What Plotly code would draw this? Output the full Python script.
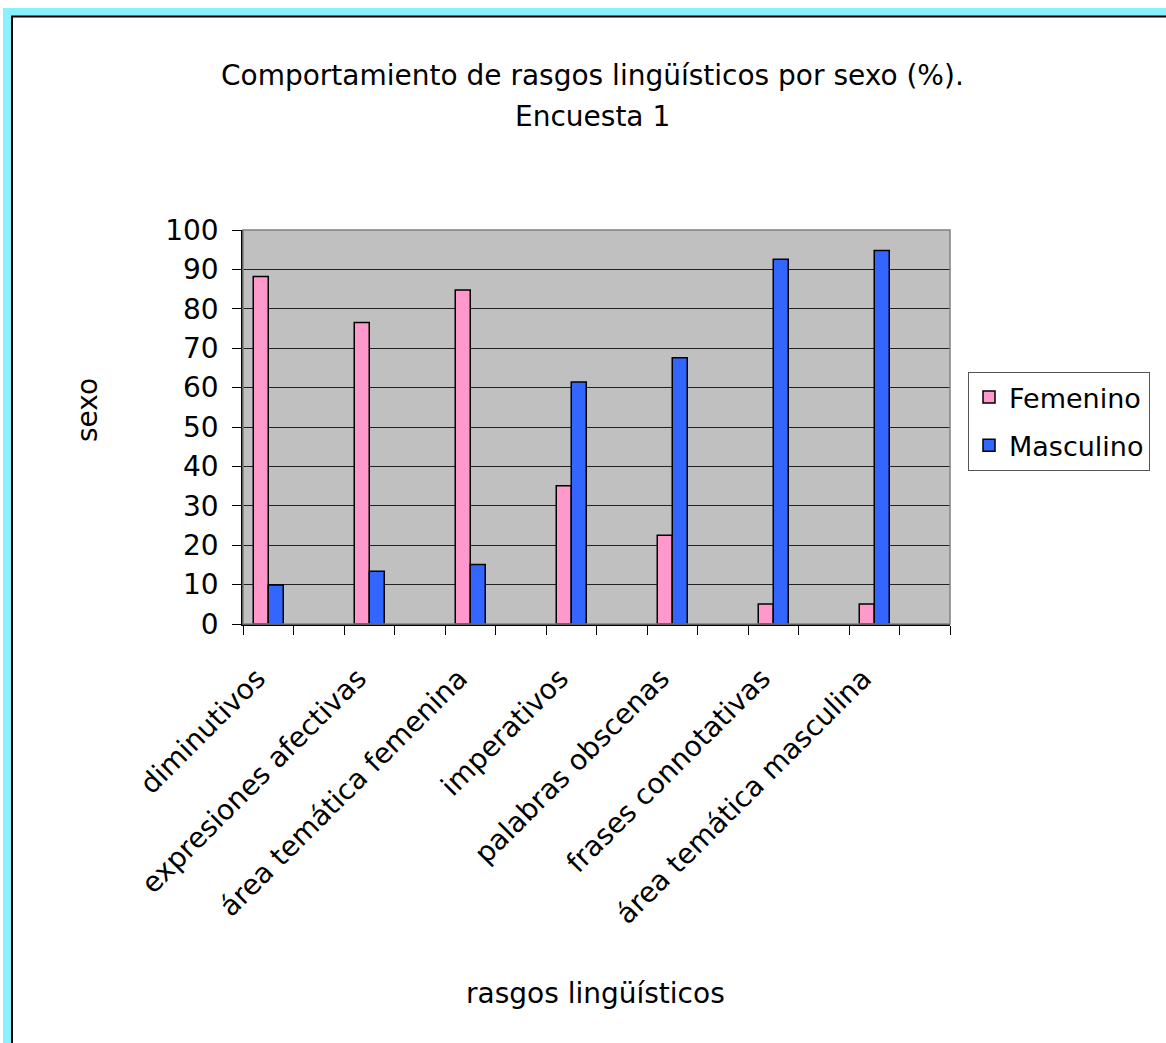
import plotly.graph_objects as go

# Survey 1: share (%) of each linguistic feature by sex
categories = [
    "diminutivos",
    "expresiones afectivas",
    "área temática femenina",
    "imperativos",
    "palabras obscenas",
    "frases connotativas",
    "área temática masculina",
]
femenino = [88.2, 76.5, 84.8, 35.1, 22.5, 5.1, 5.1]
masculino = [9.9, 13.4, 15.1, 61.4, 67.6, 92.6, 94.8]
y_ticks = [0, 10, 20, 30, 40, 50, 60, 70, 80, 90, 100]

FONT = "Comic Sans MS, DejaVu Sans, sans-serif"
W, H = 1166, 1043
L, R, T, B = 243, 950, 230, 624

# each feature occupies every other slot; the slots in between stay empty
xpos = [2 * i for i in range(len(categories))]
n_slots = 2 * len(categories)
# rotated labels hang slightly left of the bar pair
label_pos = [x - 0.22 for x in xpos]


def fx(px):
    return (px - L) / (R - L)


def fy(py):
    return (B - py) / (B - T)


fig = go.Figure()
fig.add_trace(go.Bar(
    name="Femenino", x=xpos, y=femenino, legendgroup="f",
    marker=dict(color="#FF99CC", line=dict(color="black", width=1.5)),
))
fig.add_trace(go.Bar(
    name="Masculino", x=xpos, y=masculino, legendgroup="m",
    marker=dict(color="#3366FF", line=dict(color="black", width=1.5)),
))

shapes = [
    # plot-area frame
    dict(type="rect", xref="paper", yref="paper", x0=0, x1=1, y0=0, y1=1,
         line=dict(color="#808080", width=1.5), layer="above"),
    # cyan page frame (top and left edges)
    dict(type="rect", xref="paper", yref="paper", x0=fx(3), x1=fx(W), y0=fy(8), y1=fy(16),
         fillcolor="#88F0FF", line=dict(width=0)),
    dict(type="rect", xref="paper", yref="paper", x0=fx(3), x1=fx(11), y0=fy(8), y1=fy(H),
         fillcolor="#88F0FF", line=dict(width=0)),
    dict(type="line", xref="paper", yref="paper", x0=fx(11), x1=fx(W), y0=fy(16.5), y1=fy(16.5),
         line=dict(color="black", width=2)),
    dict(type="line", xref="paper", yref="paper", x0=fx(12), x1=fx(12), y0=fy(16), y1=fy(H),
         line=dict(color="black", width=2)),
]

TXT = dict(size=28, family=FONT, color="black")
annotations = [
    dict(text="Comportamiento de rasgos lingüísticos por sexo (%).", x=fx(592), y=fy(75),
         xref="paper", yref="paper", showarrow=False, font=TXT,
         xanchor="center", yanchor="middle"),
    dict(text="Encuesta 1", x=fx(592), y=fy(117),
         xref="paper", yref="paper", showarrow=False, font=TXT,
         xanchor="center", yanchor="middle"),
    dict(text="sexo", x=fx(87), y=fy(410), textangle=-90,
         xref="paper", yref="paper", showarrow=False, font=TXT,
         xanchor="center", yanchor="middle"),
    dict(text="rasgos lingüísticos", x=fx(595), y=fy(993),
         xref="paper", yref="paper", showarrow=False, font=TXT,
         xanchor="center", yanchor="middle"),
]

fig.update_layout(
    width=W, height=H,
    margin=dict(l=L, r=W - R, t=T, b=H - B, pad=0),
    paper_bgcolor="white",
    plot_bgcolor="#C0C0C0",
    barmode="group",
    bargap=0.703,
    bargroupgap=0,
    showlegend=True,
    legend=dict(
        x=fx(968), y=fy(372), xanchor="left", yanchor="top",
        bgcolor="white", bordercolor="#555555", borderwidth=1,
        font=dict(size=27, family=FONT, color="black"),
        traceorder="grouped", tracegroupgap=10,
    ),
    shapes=shapes,
    annotations=annotations,
    font=dict(family=FONT, color="black"),
)

fig.update_xaxes(
    range=[-0.5, n_slots - 0.5],
    tickmode="array", tickvals=label_pos, ticktext=categories, tickangle=-45,
    ticks="outside", ticklen=9, tickcolor="rgba(0,0,0,0)",
    ticklabelstandoff=16,
    tickfont=dict(size=28, family=FONT, color="black"),
    showline=True, linecolor="black", linewidth=1.5,
    showgrid=False, zeroline=False,
    minor=dict(tickmode="array", tickvals=[k - 0.5 for k in range(n_slots + 1)],
               ticks="outside", ticklen=9, tickcolor="black", tickwidth=1, showgrid=False),
)
fig.update_yaxes(
    range=[0, 100],
    tickmode="array", tickvals=y_ticks,
    ticks="outside", ticklen=9, tickcolor="black", tickwidth=1,
    ticklabelstandoff=8,
    tickfont=dict(size=28, family=FONT, color="black"),
    showline=True, linecolor="black", linewidth=1.5,
    showgrid=True, gridcolor="#222222", gridwidth=1,
    zeroline=False,
)

fig.write_html("out.html")
